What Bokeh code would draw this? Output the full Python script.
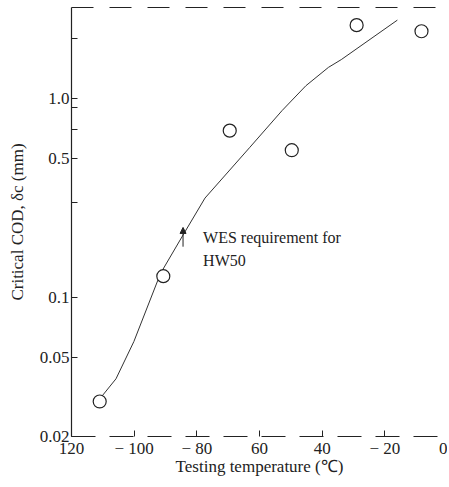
from bokeh.plotting import figure
from bokeh.models import FixedTicker, LinearAxis, Arrow, NormalHead, Label, Range1d
from bokeh.embed import file_html
from bokeh.resources import INLINE

# data
temp_pts = [-111.0, -90.7, -69.5, -49.7, -29.0, -8.3]
cod_pts = [0.030, 0.128, 0.69, 0.55, 2.34, 2.18]

curve_t = [-110.5, -105.8, -100.1, -91.6, -84.4, -77.4, -63.2, -52.8, -45.2, -38.0, -33.9, -16.0]
curve_cod = [0.0316, 0.039, 0.060, 0.132, 0.206, 0.316, 0.566, 0.87, 1.16, 1.435, 1.57, 2.48]

x_ticks = [-120, -100, -80, -60, -40, -20, 0]
x_labels = ["120", "\u2212 100", "\u2212 80", "60", "40", "\u2212 20", "0"]
y_ticks = [0.02, 0.05, 0.1, 0.5, 1.0, 2.0]
y_labels = ["0.02", "0.05", "0.1", "0.5", "1.0", ""]
y_minor = [0.3, 0.7, 0.9]

FONT = "Liberation Serif"
INK = "#222222"

p = figure(width=447, height=478, x_axis_type="linear", y_axis_type="log",
           x_range=Range1d(-120, 0), y_range=Range1d(0.02, 2.87),
           output_backend="svg", toolbar_location=None,
           min_border_left=71, min_border_right=0, min_border_top=7,
           min_border_bottom=0)

p.grid.visible = False
p.outline_line_color = None
p.background_fill_color = "white"

# axes
xa = p.xaxis[0]
xa.ticker = FixedTicker(ticks=x_ticks, minor_ticks=[])
xa.major_label_overrides = {t: l for t, l in zip(x_ticks, x_labels)}
xa.axis_label = "Testing temperature (\u2103)"
xa.axis_line_dash = "24 14"
xa.axis_label_standoff = -4

ya = p.yaxis[0]
ya.ticker = FixedTicker(ticks=y_ticks, minor_ticks=y_minor)
ya.major_label_overrides = {t: l for t, l in zip(y_ticks, y_labels)}
ya.axis_label = "Critical COD, \u03b4c (mm)"

for ax in (xa, ya):
    ax.axis_line_color = INK
    ax.axis_line_width = 1.2
    ax.major_tick_in = 6
    ax.major_tick_out = 0
    ax.minor_tick_in = 6
    ax.minor_tick_out = 0
    ax.major_tick_line_color = INK
    ax.minor_tick_line_color = INK
    ax.major_label_text_font = FONT
    ax.major_label_text_font_size = "17px"
    ax.major_label_text_color = INK
    ax.axis_label_text_font = FONT
    ax.axis_label_text_font_size = "17px"
    ax.axis_label_text_font_style = "normal"
    ax.axis_label_text_color = INK
    ax.major_label_standoff = 2

ya.axis_label_standoff = 10

top = LinearAxis(ticker=FixedTicker(ticks=[]), axis_line_dash="22 16",
                 axis_line_color=INK, major_tick_line_color=None,
                 minor_tick_line_color=None, major_label_text_font_size="0px")
p.add_layout(top, "above")

# curve and points
p.line(curve_t, curve_cod, line_color="#333333", line_width=1)
p.scatter(temp_pts, cod_pts, marker="circle", size=13, fill_color="white",
          line_color=INK, line_width=1.2)

# WES requirement
p.add_layout(Arrow(end=NormalHead(size=6, fill_color=INK, line_color=INK, line_width=1),
                   x_start=-84.4, y_start=0.18, x_end=-84.4, y_end=0.225,
                   line_color=INK, line_width=1))
p.add_layout(Label(x=-78, y=0.201, text="WES requirement for", text_font=FONT,
                   text_font_size="16px", text_baseline="middle", text_color=INK))
p.add_layout(Label(x=-78, y=0.154, text="HW50", text_font=FONT,
                   text_font_size="16px", text_baseline="middle", text_color=INK))

open("out.html", "w").write(file_html(p, INLINE))
